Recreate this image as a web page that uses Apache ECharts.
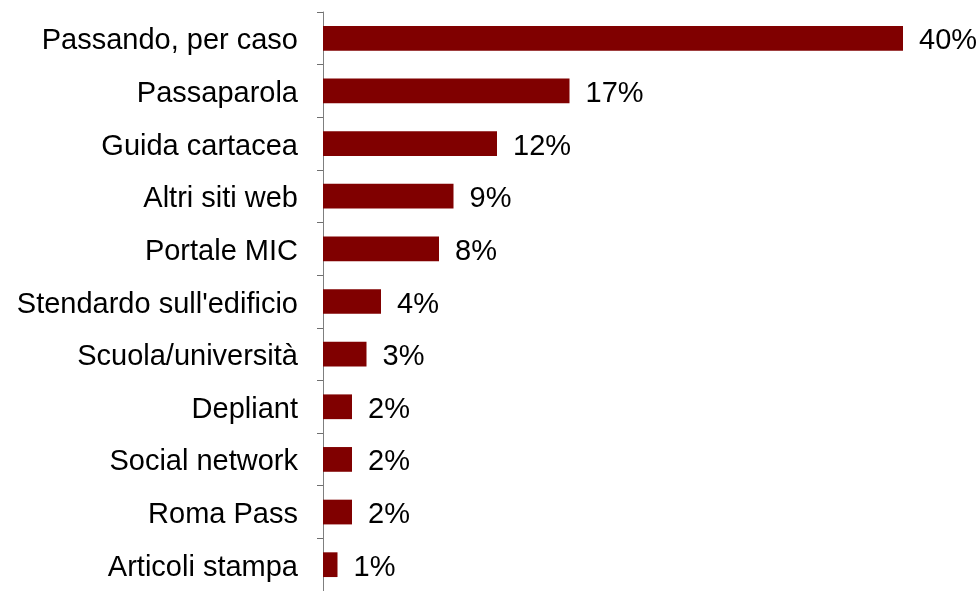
<!DOCTYPE html>
<html>
<head>
<meta charset="utf-8">
<script src="https://cdn.jsdelivr.net/npm/echarts@6/dist/echarts.min.js"></script>
<style>
  html, body { margin: 0; padding: 0; background: #ffffff; }
  #chart { width: 980px; height: 591px; }
</style>
</head>
<body>
<div id="chart"></div>
<script>
// Sources through which visitors learned about the site (% of answers)
const categories = [
  'Passando, per caso',
  'Passaparola',
  'Guida cartacea',
  'Altri siti web',
  'Portale MIC',
  "Stendardo sull'edificio",
  'Scuola/università',
  'Depliant',
  'Social network',
  'Roma Pass',
  'Articoli stampa'
];
const shares = [40, 17, 12, 9, 8, 4, 3, 2, 2, 2, 1];

const FONT = 'Liberation Sans, Arial, sans-serif';
const chart = echarts.init(document.getElementById('chart'), null, { renderer: 'canvas' });

chart.setOption({
  animation: false,
  backgroundColor: '#ffffff',
  textStyle: { fontFamily: FONT },
  grid: { left: 323, top: 12, width: 580, height: 586, containLabel: false },
  xAxis: {
    type: 'value',
    min: 0,
    max: 40,
    show: false
  },
  yAxis: {
    type: 'category',
    data: categories,
    inverse: true,
    axisLine: { show: true, lineStyle: { color: '#7f7f7f', width: 1 } },
    axisTick: { show: true, length: 6, lineStyle: { color: '#6f6f6f', width: 1 } },
    axisLabel: {
      margin: 25,
      formatter: v => '{t|' + v + '}',
      rich: {
        t: { color: '#000000', fontSize: 29, fontFamily: FONT, padding: [6, 0, 0, 0] }
      }
    }
  },
  series: [{
    type: 'bar',
    data: shares,
    barCategoryGap: '53%',
    itemStyle: { color: '#800000' },
    label: {
      show: true,
      position: 'right',
      distance: 16,
      offset: [0, 3],
      color: '#000000',
      fontSize: 29,
      fontFamily: FONT,
      formatter: p => p.value + '%'
    }
  }]
});
</script>
</body>
</html>
